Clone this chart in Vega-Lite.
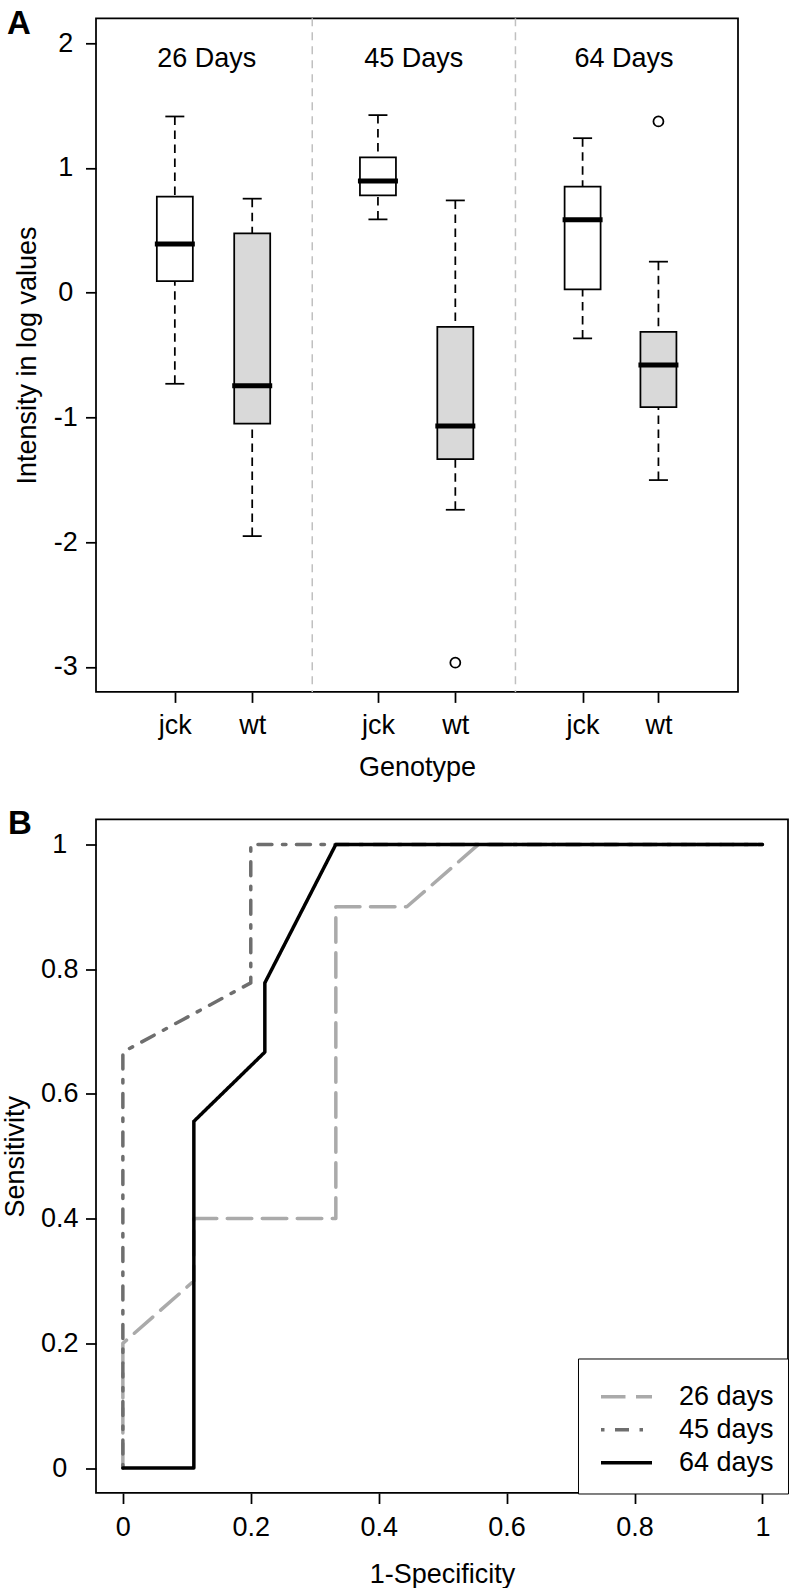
{
  "$schema": "https://vega.github.io/schema/vega-lite/v6.json",
  "padding": {"left": 0, "top": 7.3, "right": 5, "bottom": 0},
  "spacing": 25.2,
  "resolve": {"legend": {"color": "independent", "strokeDash": "independent"}},
  "datasets": {
    "boxes": [
      {"group": "26 Days", "geno": "jck", "pos": 1, "lower": -0.73, "q1": 0.093, "median": 0.39, "q3": 0.77, "upper": 1.413},
      {"group": "26 Days", "geno": "wt", "pos": 2, "lower": -1.951, "q1": -1.05, "median": -0.746, "q3": 0.475, "upper": 0.754},
      {"group": "45 Days", "geno": "jck", "pos": 3.625, "lower": 0.588, "q1": 0.78, "median": 0.895, "q3": 1.085, "upper": 1.424},
      {"group": "45 Days", "geno": "wt", "pos": 4.625, "lower": -1.74, "q1": -1.334, "median": -1.069, "q3": -0.273, "upper": 0.74},
      {"group": "64 Days", "geno": "jck", "pos": 6.27, "lower": -0.366, "q1": 0.026, "median": 0.585, "q3": 0.85, "upper": 1.239},
      {"group": "64 Days", "geno": "wt", "pos": 7.25, "lower": -1.502, "q1": -0.917, "median": -0.58, "q3": -0.313, "upper": 0.249}
    ],
    "outliers": [
      {"group": "45 Days", "geno": "wt", "pos": 4.625, "v": -2.966},
      {"group": "64 Days", "geno": "wt", "pos": 7.25, "v": 1.373}
    ],
    "separators": [{"pos": 2.776}, {"pos": 5.402}],
    "grouplabels": [
      {"label": "26 Days", "pos": 1.411, "v": 1.812},
      {"label": "45 Days", "pos": 4.089, "v": 1.812},
      {"label": "64 Days", "pos": 6.805, "v": 1.812}
    ],
    "roc": [
      {"series": "26 days", "i": 0, "fpr": 0, "tpr": 0},
      {"series": "26 days", "i": 1, "fpr": 0, "tpr": 0.2},
      {"series": "26 days", "i": 2, "fpr": 0.111, "tpr": 0.3},
      {"series": "26 days", "i": 3, "fpr": 0.111, "tpr": 0.4},
      {"series": "26 days", "i": 4, "fpr": 0.333, "tpr": 0.4},
      {"series": "26 days", "i": 5, "fpr": 0.333, "tpr": 0.9},
      {"series": "26 days", "i": 6, "fpr": 0.444, "tpr": 0.9},
      {"series": "26 days", "i": 7, "fpr": 0.556, "tpr": 1},
      {"series": "26 days", "i": 8, "fpr": 1, "tpr": 1},
      {"series": "45 days", "i": 0, "fpr": 0, "tpr": 0},
      {"series": "45 days", "i": 1, "fpr": 0, "tpr": 0.667},
      {"series": "45 days", "i": 2, "fpr": 0.2, "tpr": 0.778},
      {"series": "45 days", "i": 3, "fpr": 0.2, "tpr": 1},
      {"series": "45 days", "i": 4, "fpr": 1, "tpr": 1},
      {"series": "64 days", "i": 0, "fpr": 0, "tpr": 0},
      {"series": "64 days", "i": 1, "fpr": 0.111, "tpr": 0},
      {"series": "64 days", "i": 2, "fpr": 0.111, "tpr": 0.556},
      {"series": "64 days", "i": 3, "fpr": 0.222, "tpr": 0.667},
      {"series": "64 days", "i": 4, "fpr": 0.222, "tpr": 0.778},
      {"series": "64 days", "i": 5, "fpr": 0.333, "tpr": 1},
      {"series": "64 days", "i": 6, "fpr": 1, "tpr": 1}
    ]
  },
  "config": {
    "font": "Liberation Sans",
    "view": {"stroke": "black", "strokeWidth": 1.75},
    "axis": {
      "grid": false, "domain": false, "tickColor": "black", "tickWidth": 1.75, "tickSize": 10.5,
      "labelColor": "black", "labelFontSize": 27, "labelFont": "Liberation Sans",
      "titleColor": "black", "titleFontSize": 27, "titleFontWeight": "normal", "titleFont": "Liberation Sans"
    },
    "title": {"fontSize": 33, "fontWeight": "bold", "anchor": "start", "frame": "group", "color": "black", "baseline": "alphabetic", "font": "Liberation Sans"}
  },
  "vconcat": [
    {
      "width": 642,
      "height": 673.6,
      "title": {"text": "A", "dx": -89, "offset": -13.3, "dy": 10.5},
      "layer": [
        {
          "data": {"name": "separators"},
          "mark": {"type": "rule", "color": "#c0c0c0", "strokeWidth": 1.5, "strokeDash": [8, 6]},
          "encoding": {
            "x": {
              "field": "pos", "type": "quantitative", "title": "Genotype",
              "scale": {"domain": [0.0458, 8.2137], "nice": false, "zero": false},
              "axis": {
                "values": [1, 2, 3.625, 4.625, 6.27, 7.25],
                "labelExpr": "indexof([1, 3.625, 6.27], datum.value) >= 0 ? 'jck' : 'wt'",
                "labelBaseline": "alphabetic", "labelPadding": 31.2,
                "titleBaseline": "alphabetic", "titleY": 83.4
              }
            }
          }
        },
        {
          "data": {"name": "boxes"},
          "mark": {"type": "rule", "color": "black", "strokeWidth": 1.75, "strokeDash": [8.5, 5.5]},
          "encoding": {
            "x": {"field": "pos", "type": "quantitative", "title": "Genotype", "scale": {"domain": [0.0458, 8.2137], "nice": false, "zero": false}},
            "y": {
              "field": "lower", "type": "quantitative", "title": "Intensity in log values",
              "scale": {"domain": [-3.2, 2.2], "nice": false, "zero": false},
              "axis": {
                "values": [-3, -2, -1, 0, 1, 2], "labelExpr": "'' + datum.value",
                "labelAlign": "center", "labelPadding": 20.2,
                "titleBaseline": "alphabetic", "titleX": -60.2
              }
            },
            "y2": {"field": "q1"}
          }
        },
        {
          "data": {"name": "boxes"},
          "mark": {"type": "rule", "color": "black", "strokeWidth": 1.75, "strokeDash": [8.5, 5.5]},
          "encoding": {
            "x": {"field": "pos", "type": "quantitative", "title": "Genotype", "scale": {"domain": [0.0458, 8.2137], "nice": false, "zero": false}},
            "y": {"field": "upper", "type": "quantitative", "title": "Intensity in log values", "scale": {"domain": [-3.2, 2.2], "nice": false, "zero": false}},
            "y2": {"field": "q3"}
          }
        },
        {
          "data": {"name": "boxes"},
          "mark": {"type": "tick", "orient": "horizontal", "color": "black", "size": 19, "thickness": 1.75, "opacity": 1},
          "encoding": {
            "x": {"field": "pos", "type": "quantitative", "title": "Genotype", "scale": {"domain": [0.0458, 8.2137], "nice": false, "zero": false}},
            "y": {"field": "lower", "type": "quantitative", "title": "Intensity in log values", "scale": {"domain": [-3.2, 2.2], "nice": false, "zero": false}}
          }
        },
        {
          "data": {"name": "boxes"},
          "mark": {"type": "tick", "orient": "horizontal", "color": "black", "size": 19, "thickness": 1.75, "opacity": 1},
          "encoding": {
            "x": {"field": "pos", "type": "quantitative", "title": "Genotype", "scale": {"domain": [0.0458, 8.2137], "nice": false, "zero": false}},
            "y": {"field": "upper", "type": "quantitative", "title": "Intensity in log values", "scale": {"domain": [-3.2, 2.2], "nice": false, "zero": false}}
          }
        },
        {
          "data": {"name": "boxes"},
          "mark": {"type": "bar", "size": 36, "stroke": "black", "strokeWidth": 1.75, "opacity": 1},
          "encoding": {
            "x": {"field": "pos", "type": "quantitative", "title": "Genotype", "scale": {"domain": [0.0458, 8.2137], "nice": false, "zero": false}},
            "y": {"field": "q1", "type": "quantitative", "title": "Intensity in log values", "scale": {"domain": [-3.2, 2.2], "nice": false, "zero": false}},
            "y2": {"field": "q3"},
            "fill": {"field": "geno", "type": "nominal", "scale": {"domain": ["jck", "wt"], "range": ["#ffffff", "#d9d9d9"]}, "legend": null}
          }
        },
        {
          "data": {"name": "boxes"},
          "mark": {"type": "tick", "orient": "horizontal", "color": "black", "size": 40, "thickness": 5, "opacity": 1},
          "encoding": {
            "x": {"field": "pos", "type": "quantitative", "title": "Genotype", "scale": {"domain": [0.0458, 8.2137], "nice": false, "zero": false}},
            "y": {"field": "median", "type": "quantitative", "title": "Intensity in log values", "scale": {"domain": [-3.2, 2.2], "nice": false, "zero": false}}
          }
        },
        {
          "data": {"name": "outliers"},
          "mark": {"type": "point", "shape": "circle", "filled": false, "color": "black", "strokeWidth": 1.75, "size": 100, "opacity": 1},
          "encoding": {
            "x": {"field": "pos", "type": "quantitative", "title": "Genotype", "scale": {"domain": [0.0458, 8.2137], "nice": false, "zero": false}},
            "y": {"field": "v", "type": "quantitative", "title": "Intensity in log values", "scale": {"domain": [-3.2, 2.2], "nice": false, "zero": false}}
          }
        },
        {
          "data": {"name": "grouplabels"},
          "mark": {"type": "text", "fontSize": 27, "align": "center", "baseline": "alphabetic", "color": "black", "font": "Liberation Sans"},
          "encoding": {
            "x": {"field": "pos", "type": "quantitative", "title": "Genotype", "scale": {"domain": [0.0458, 8.2137], "nice": false, "zero": false}},
            "y": {"field": "v", "type": "quantitative", "title": "Intensity in log values", "scale": {"domain": [-3.2, 2.2], "nice": false, "zero": false}},
            "text": {"field": "label"}
          }
        }
      ]
    },
    {
      "width": 692,
      "height": 673.5,
      "title": {"text": "B", "dx": -88, "offset": -12.5, "dy": 9.1},
      "data": {"name": "roc"},
      "mark": {"type": "line", "strokeWidth": 3.5, "strokeCap": "round", "strokeJoin": "round"},
      "encoding": {
        "x": {
          "field": "fpr", "type": "quantitative", "title": "1-Specificity",
          "scale": {"domain": [-0.042, 1.04], "nice": false, "zero": false},
          "axis": {
            "values": [0, 0.2, 0.4, 0.6, 0.8, 1], "format": "~g",
            "labelBaseline": "alphabetic", "labelPadding": 32.5,
            "titleBaseline": "alphabetic", "titleY": 89.3
          }
        },
        "y": {
          "field": "tpr", "type": "quantitative", "title": "Sensitivity",
          "scale": {"domain": [-0.04, 1.04], "nice": false, "zero": false},
          "axis": {
            "values": [0, 0.2, 0.4, 0.6, 0.8, 1], "format": "~g",
            "labelAlign": "center", "labelPadding": 26.2,
            "titleBaseline": "alphabetic", "titleX": -72.5
          }
        },
        "order": {"field": "i", "type": "quantitative"},
        "color": {
          "field": "series", "type": "nominal",
          "scale": {"domain": ["26 days", "45 days", "64 days"], "range": ["#aaaaaa", "#6e6e6e", "#000000"]},
          "legend": {
            "title": " ", "titleFontSize": 8, "titlePadding": 0,
            "orient": "bottom-right", "offset": 0, "padding": 14,
            "strokeColor": "black", "fillColor": "white",
            "symbolType": "stroke", "symbolSize": 2601, "symbolStrokeWidth": 3.5, "symbolOffset": 7,
            "labelFontSize": 27, "labelColor": "black", "labelOffset": 25, "labelFont": "Liberation Sans",
            "clipHeight": 32.5, "rowPadding": 0
          }
        },
        "strokeDash": {
          "field": "series", "type": "nominal",
          "scale": {"domain": ["26 days", "45 days", "64 days"], "range": [[24.5, 10.5], [3.5, 10.5, 14, 10.5], [1, 0]]},
          "legend": {
            "title": " ", "titleFontSize": 8, "titlePadding": 0,
            "orient": "bottom-right", "offset": 0, "padding": 14,
            "strokeColor": "black", "fillColor": "white",
            "symbolType": "stroke", "symbolSize": 2601, "symbolStrokeWidth": 3.5, "symbolOffset": 7,
            "labelFontSize": 27, "labelColor": "black", "labelOffset": 25, "labelFont": "Liberation Sans",
            "clipHeight": 32.5, "rowPadding": 0
          }
        }
      }
    }
  ]
}
